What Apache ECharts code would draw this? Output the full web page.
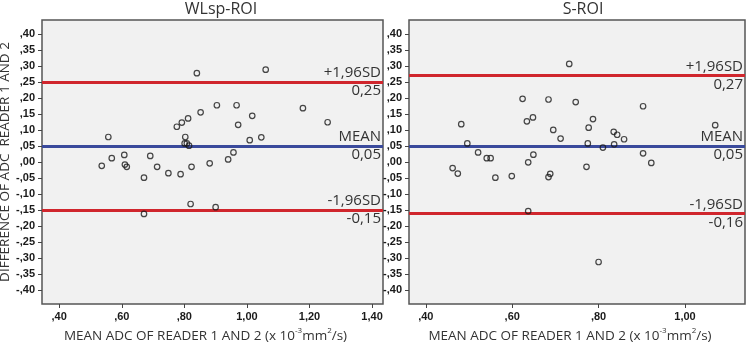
<!DOCTYPE html>
<html>
<head>
<meta charset="utf-8">
<script src="https://cdn.jsdelivr.net/npm/echarts@6.0.0/dist/echarts.min.js"></script>
<style>
html, body { margin: 0; padding: 0; background: #fff; }
#chart { width: 746px; height: 345px; }
</style>
</head>
<body>
<div id="chart"></div>
<script>
// WLsp-ROI: mean ADC of reader 1 and 2 / difference
var wlspMean = [0.557, 0.536, 0.568, 0.608, 0.610, 0.616, 0.671, 0.691, 0.713, 0.749, 0.788, 0.776,
                0.792, 0.812, 0.803, 0.801, 0.808, 0.815, 0.823, 0.840, 0.852, 0.881, 0.904, 0.940,
                0.957, 0.967, 0.972, 1.009, 1.017, 1.046, 1.060, 1.179, 1.258, 0.820, 0.900, 0.671];
var wlspDiff = [0.078, -0.012, 0.012, 0.022, -0.008, -0.015, -0.049, 0.019, -0.015, -0.035, -0.038, 0.110,
                0.123, 0.136, 0.078, 0.058, 0.058, 0.051, -0.015, 0.277, 0.155, -0.004, 0.177, 0.008,
                0.030, 0.177, 0.116, 0.068, 0.144, 0.077, 0.288, 0.168, 0.124, -0.131, -0.141, -0.162];
// S-ROI
var sroiMean = [0.732, 0.624, 0.684, 0.747, 0.903, 0.482, 0.634, 0.648, 0.695, 0.712, 0.787, 0.777,
                0.775, 0.810, 0.835, 0.843, 0.859, 0.836, 1.070, 0.496, 0.521, 0.541, 0.550, 0.649,
                0.637, 0.903, 0.922, 0.462, 0.474, 0.561, 0.599, 0.688, 0.684, 0.772, 0.637, 0.800];
var sroiDiff = [0.306, 0.197, 0.195, 0.187, 0.174, 0.118, 0.127, 0.139, 0.100, 0.073, 0.134, 0.107,
                0.058, 0.045, 0.094, 0.085, 0.071, 0.055, 0.115, 0.058, 0.030, 0.012, 0.012, 0.023,
                -0.001, 0.027, -0.003, -0.019, -0.036, -0.049, -0.044, -0.037, -0.047, -0.015, -0.153, -0.312];
// +1,96SD / MEAN / -1,96SD
var wlspLimits = [0.250, 0.053, -0.149];
var sroiLimits = [0.268, 0.051, -0.163];
var limitNames = ['+1,96SD', 'MEAN', '-1,96SD'];
var panelTitles = ['WLsp-ROI', 'S-ROI'];
var xTicksLeft = [0.4, 0.6, 0.8, 1.0, 1.2, 1.4];
var xTicksRight = [0.4, 0.6, 0.8, 1.0];
var yTicks = [0.40, 0.35, 0.30, 0.25, 0.20, 0.15, 0.10, 0.05, 0, -0.05, -0.10, -0.15, -0.20, -0.25, -0.30, -0.35, -0.40];

var RED = '#D0262D';
var BLUE = '#3A4A9C';
var TXT = '#333';

// ,40  -,40  1,00
function fmtTick(v) {
	var s = Math.abs(v).toFixed(2).replace('.', ',');
	if (s.charAt(0) === '0') s = s.substring(1);
	return (v < -1e-9 ? '-' : '') + s;
}
function fmtLimit(v) {
	return v.toFixed(2).replace('.', ',');
}

var tickLabel = { fontSize: 11, fontWeight: 'bold', fontFamily: 'Liberation Sans', color: '#1a1a1a' };
var xName = '{a|MEAN ADC OF READER 1 AND 2 (x 10}{s|-3}{a|mm}{s|2}{a|/s)}';
var xNameStyle = {
	padding: [0, 14, 0, 0],
	rich: {
		a: { fontSize: 13.5, fontFamily: 'Open Sans', color: TXT, lineHeight: 16, verticalAlign: 'bottom' },
		s: { fontSize: 8, fontFamily: 'Open Sans', color: TXT, lineHeight: 16, verticalAlign: 'top' }
	}
};

function makeX(idx, min, max, ticks) {
	return {
		gridIndex: idx, type: 'value', min: min, max: max,
		axisLine: { show: false, onZero: false },
		splitLine: { show: false },
		axisTick: { show: true, length: 4, customValues: ticks, lineStyle: { color: '#444' } },
		axisLabel: Object.assign({ margin: 7, customValues: ticks, formatter: fmtTick }, tickLabel),
		name: xName, nameLocation: 'middle', nameGap: 22, nameTextStyle: xNameStyle
	};
}
function makeY(idx, withName) {
	var ax = {
		gridIndex: idx, type: 'value', min: -0.443, max: 0.443,
		axisLine: { show: false, onZero: false },
		splitLine: { show: false },
		axisTick: { show: true, length: 4, customValues: yTicks, lineStyle: { color: '#444' } },
		axisLabel: Object.assign({ margin: 7, customValues: yTicks, formatter: fmtTick }, tickLabel)
	};
	if (withName) {
		ax.name = 'DIFFERENCE OF ADC  READER 1 AND 2';
		ax.nameLocation = 'middle';
		ax.nameGap = 27;
		ax.nameTextStyle = { fontSize: 13.5, fontFamily: 'Open Sans', color: TXT };
	}
	return ax;
}
function makeSeries(idx, xs, ys, limits) {
	var pts = xs.map(function(x, i) { return [x, ys[i]]; });
	var lines = [];
	limits.forEach(function(v, i) {
		var ls = { color: i === 1 ? BLUE : RED, width: 3, type: 'solid' };
		lines.push({ yAxis: v, lineStyle: ls, label: { formatter: limitNames[i], position: 'insideEndTop' } });
		lines.push({ yAxis: v, lineStyle: ls, label: { formatter: fmtLimit(v), position: 'insideEndBottom' } });
	});
	return {
		type: 'scatter', xAxisIndex: idx, yAxisIndex: idx, data: pts,
		symbol: 'circle', symbolSize: 5.5,
		itemStyle: { color: 'rgba(0,0,0,0)', borderColor: '#1a1a1a', borderWidth: 1.2 },
		z: 3,
		markLine: {
			symbol: ['none', 'none'], silent: true, z: 2,
			label: { color: TXT, fontSize: 15, fontFamily: 'Open Sans', distance: [2, 1.5] },
			data: lines
		}
	};
}

var myChart = echarts.init(document.getElementById('chart'));
var gridStyle = { show: true, backgroundColor: '#F1F1F1', borderColor: '#555', borderWidth: 1.5, outerBoundsMode: 'none' };
var option = {
	animation: false,
	backgroundColor: '#fff',
	grid: [
		Object.assign({ left: 42, top: 20, width: 341, height: 284 }, gridStyle),
		Object.assign({ left: 409, top: 20, width: 336, height: 284 }, gridStyle)
	],
	xAxis: [makeX(0, 0.345, 1.435, xTicksLeft), makeX(1, 0.361, 1.139, xTicksRight)],
	yAxis: [makeY(0, true), makeY(1, false)],
	graphic: [
		{ type: 'text', x: 221, y: 1, style: { text: panelTitles[0], align: 'center', verticalAlign: 'top', fontSize: 16, fontFamily: 'Open Sans', fill: TXT } },
		{ type: 'text', x: 583, y: 1, style: { text: panelTitles[1], align: 'center', verticalAlign: 'top', fontSize: 16, fontFamily: 'Open Sans', fill: TXT } }
	],
	series: [
		makeSeries(0, wlspMean, wlspDiff, wlspLimits),
		makeSeries(1, sroiMean, sroiDiff, sroiLimits)
	]
};
myChart.setOption(option);
window.onresize = myChart.resize;
</script>
</body>
</html>
